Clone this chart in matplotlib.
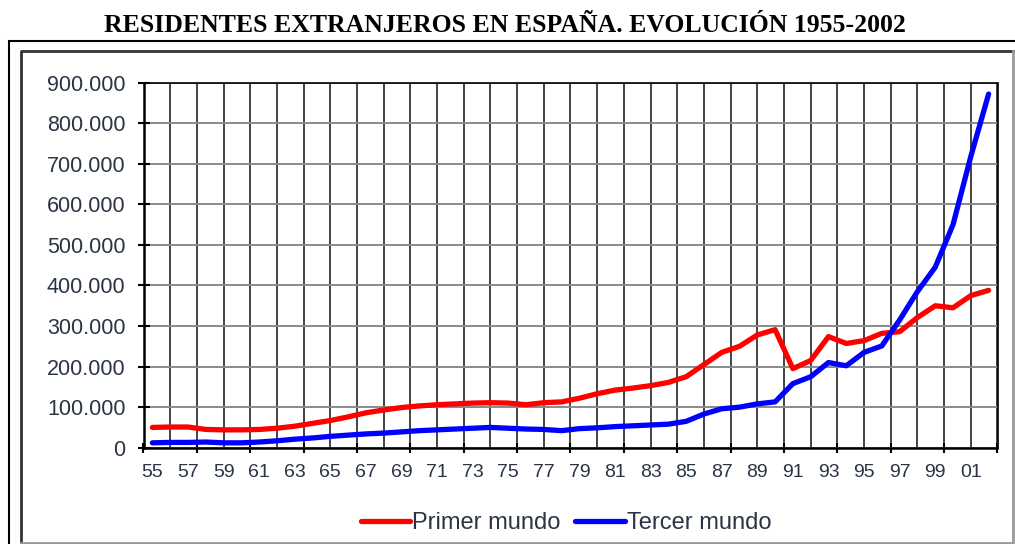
import numpy as np
import matplotlib
matplotlib.use('Agg')
import matplotlib.pyplot as plt
from matplotlib.lines import Line2D
from matplotlib.patches import Rectangle

# residentes extranjeros (miles)
years = list(range(1955, 2003))
primer_mundo = [50, 51, 51, 45, 44, 44, 45, 48, 53, 60, 67, 76, 86, 93, 99, 103,
                106, 108, 110, 111, 110, 106, 111, 113, 122, 133, 142, 147, 153, 161,
                175, 205, 235, 250, 278, 291, 195, 215, 274, 257, 264, 282, 286, 321,
                350, 345, 375, 388]
tercer_mundo = [12, 13, 13, 14, 12, 12, 14, 17, 21, 24, 28, 31, 34, 36, 39, 42,
                44, 46, 48, 50, 48, 46, 45, 42, 47, 49, 52, 54, 56, 58,
                65, 83, 96, 100, 108, 113, 158, 175, 210, 202, 235, 251, 315, 385,
                445, 550, 718, 872]
y_ticks = list(range(0, 900001, 100000))
label_years = list(range(1955, 2002, 2))

W, H = 1015, 544
fig = plt.figure(figsize=(W / 100, H / 100), dpi=100)

ax = fig.add_axes([143.5 / W, 1 - 447.7 / H, 854 / W, (447.7 - 82.7) / H])
ax.plot(years, np.array(primer_mundo) * 1000, color='#ff0000', lw=3.8,
        solid_capstyle='round', solid_joinstyle='round', label='Primer mundo', zorder=3)
ax.plot(years, np.array(tercer_mundo) * 1000, color='#0000ff', lw=3.8,
        solid_capstyle='round', solid_joinstyle='round', label='Tercer mundo', zorder=3)

ax.set_xlim(1954.5, 2002.5)
ax.set_ylim(0, 900000)

# vertical grid every 1.5 years, outward ticks every 3
ax.set_xticks(np.arange(1954.5, 2002.6, 3))
ax.set_xticklabels([])
ax.set_xticks(np.arange(1956, 2002, 3), minor=True)
ax.tick_params(axis='x', which='major', length=7, width=1.5, direction='inout')
ax.tick_params(axis='x', which='minor', length=0)
ax.grid(axis='x', which='both', color='#111111', lw=1.1)

ax.set_yticks(y_ticks)
ax.set_yticklabels([f'{v:,}'.replace(',', '.') for v in y_ticks],
                   family='Liberation Sans', size=15.5, color='#2b3444')
ax.tick_params(axis='y', length=8, width=1.5, direction='inout', pad=9)
ax.grid(axis='y', color='#8a8a8a', lw=1.4)
ax.set_axisbelow(True)

for s in ax.spines.values():
    s.set_color('black')
    s.set_linewidth(1.2)
ax.spines['left'].set_linewidth(1.8)
ax.spines['bottom'].set_linewidth(1.8)

sec = ax.secondary_xaxis('bottom')
sec.set_xticks(label_years)
sec.set_xticklabels([str(y)[2:] for y in label_years],
                    family='Liberation Sans', size=14, color='#2b3444')
sec.tick_params(length=0, pad=12)
sec.spines['bottom'].set_visible(False)

fig.legend(loc='center', bbox_to_anchor=(566 / W, 1 - 523 / H), ncol=2, frameon=False,
           prop={'family': 'Liberation Sans', 'size': 17}, handlelength=2.1,
           handletextpad=0.1, columnspacing=0.6, labelcolor='#2b3444')

fig.text(505 / W, 1 - 25 / H, 'RESIDENTES EXTRANJEROS EN ESPAÑA. EVOLUCIÓN 1955-2002',
         family='Liberation Serif', weight='bold', size=18.5, ha='center', va='center')

# frame
fig.patches.append(Rectangle((9 / W, -0.1), 1.2, (H - 41) / H + 0.1, transform=fig.transFigure,
                             fill=False, lw=1.5, ec='black'))
fig.lines.append(Line2D([21 / W, 21 / W, 1013 / W], [1 - 543 / H, 1 - 51 / H, 1 - 51 / H],
                        transform=fig.transFigure, color='#333333', lw=2))
fig.lines.append(Line2D([21 / W, 1013 / W, 1013 / W], [1 - 543 / H, 1 - 543 / H, 1 - 51 / H],
                        transform=fig.transFigure, color='#999999', lw=2))

fig.savefig('out.png', dpi=100)
